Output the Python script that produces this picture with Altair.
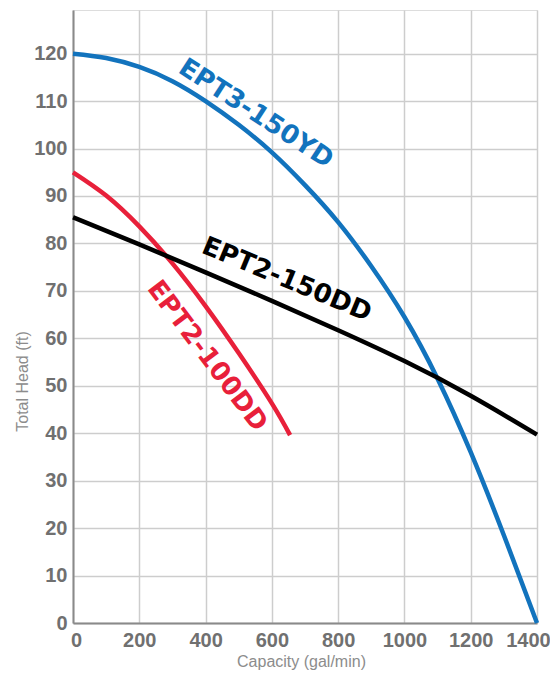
import altair as alt
import pandas as pd

# ---- data ----
blue_q = [0, 100, 200, 300, 400, 500, 600, 700, 800, 900, 1000, 1100, 1200, 1300, 1400]
blue_h = [120, 119.1, 117.2, 114.2, 110.0, 105.0, 99.2, 92.3, 84.5, 75.2, 64.5, 51.5, 36.0, 18.5, 0]

black_q = [0, 200, 400, 600, 800, 1000, 1200, 1400]
black_h = [85.5, 79.8, 73.9, 67.9, 61.7, 55.2, 47.9, 39.7]

red_q = [0, 100, 200, 300, 400, 500, 600, 655]
red_h = [95.0, 90.1, 83.6, 75.8, 66.8, 56.9, 46.3, 39.6]

series_names = ["EPT3-150YD", "EPT2-100DD", "EPT2-150DD"]
series_colors = ["#1273bd", "#e8203a", "#000000"]

# curve labels (annotation anchors in data units)
label_text = ["EPT3-150YD", "EPT2-150DD", "EPT2-100DD"]
label_q = [552, 645, 405]
label_h = [107.4, 72.4, 56.3]
label_angle = [33, 22.5, 53]
label_color = ["#1273bd", "#000000", "#e8203a"]

x_ticks = [0, 200, 400, 600, 800, 1000, 1200, 1400]
y_ticks = [0, 10, 20, 30, 40, 50, 60, 70, 80, 90, 100, 110, 120]

rows = []
for name, qs, hs in zip(series_names, [blue_q, red_q, black_q], [blue_h, red_h, black_h]):
    for i, (q, h) in enumerate(zip(qs, hs)):
        rows.append({"series": name, "q": q, "h": h, "order": i})
curves = pd.DataFrame(rows)

labels = pd.DataFrame({
    "text": label_text, "q": label_q, "h": label_h,
    "angle": label_angle, "color": label_color,
})

FONT = "Liberation Sans"
GRID = "#cdcdcd"
FRAME = "#8a8a8a"

xscale = alt.Scale(domain=[0, 1400], nice=False, zero=False)
yscale = alt.Scale(domain=[0, 129.2], nice=False, zero=False)

x_axis = alt.Axis(
    values=x_ticks, format="d", ticks=False, labelFlush=False, labelPadding=7,
    labelOffset={"condition": [{"test": "datum.value == 1400", "value": -9},
                               {"test": "datum.value == 0", "value": 3}],
                 "value": 0},
    labelFont=FONT, labelFontSize=20, labelFontWeight="bold", labelColor="#707070",
    domainColor=FRAME, domainWidth=2, gridColor=GRID, gridWidth=1.5,
    title="Capacity (gal/min)", titleFont=FONT, titleFontSize=16,
    titleFontWeight="normal", titleColor="#8c8c8c",
    titleX=228, titleY=38, titleBaseline="middle", titleAlign="center",
)
y_axis = alt.Axis(
    values=y_ticks, format="d", ticks=False, labelPadding=6,
    labelFont=FONT, labelFontSize=20, labelFontWeight="bold", labelColor="#707070",
    domainColor=FRAME, domainWidth=2, gridColor=GRID, gridWidth=1.5,
    title="Total Head (ft)", titleFont=FONT, titleFontSize=16,
    titleFontWeight="normal", titleColor="#8c8c8c",
    titleX=-51, titleY=371, titleAngle=270, titleBaseline="middle", titleAlign="center",
)

lines = alt.Chart(curves).mark_line(
    strokeWidth=4.5, interpolate="natural", strokeCap="butt"
).encode(
    x=alt.X("q:Q", scale=xscale, axis=x_axis),
    y=alt.Y("h:Q", scale=yscale, axis=y_axis),
    color=alt.Color("series:N", scale=alt.Scale(domain=series_names, range=series_colors), legend=None),
    detail="series:N",
    order="order:Q",
)

texts = alt.Chart(labels).mark_text(
    font="DejaVu Sans", fontWeight="bold", fontSize=26,
    align="center", baseline="middle",
).encode(
    x=alt.X("q:Q", scale=xscale),
    y=alt.Y("h:Q", scale=yscale),
    text="text:N",
    angle=alt.Angle("angle:Q", scale=None),
    color=alt.Color("color:N", scale=None),
)

chart = alt.layer(lines, texts).properties(
    width=464, height=613,
    padding={"left": 65, "top": 2, "right": 13, "bottom": 48},
    autosize=alt.AutoSizeParams(type="none"),
).configure_view(
    stroke=FRAME, strokeWidth=2
).configure(background="white")

chart.save("out.html", embed_options={"renderer": "svg", "actions": False})
